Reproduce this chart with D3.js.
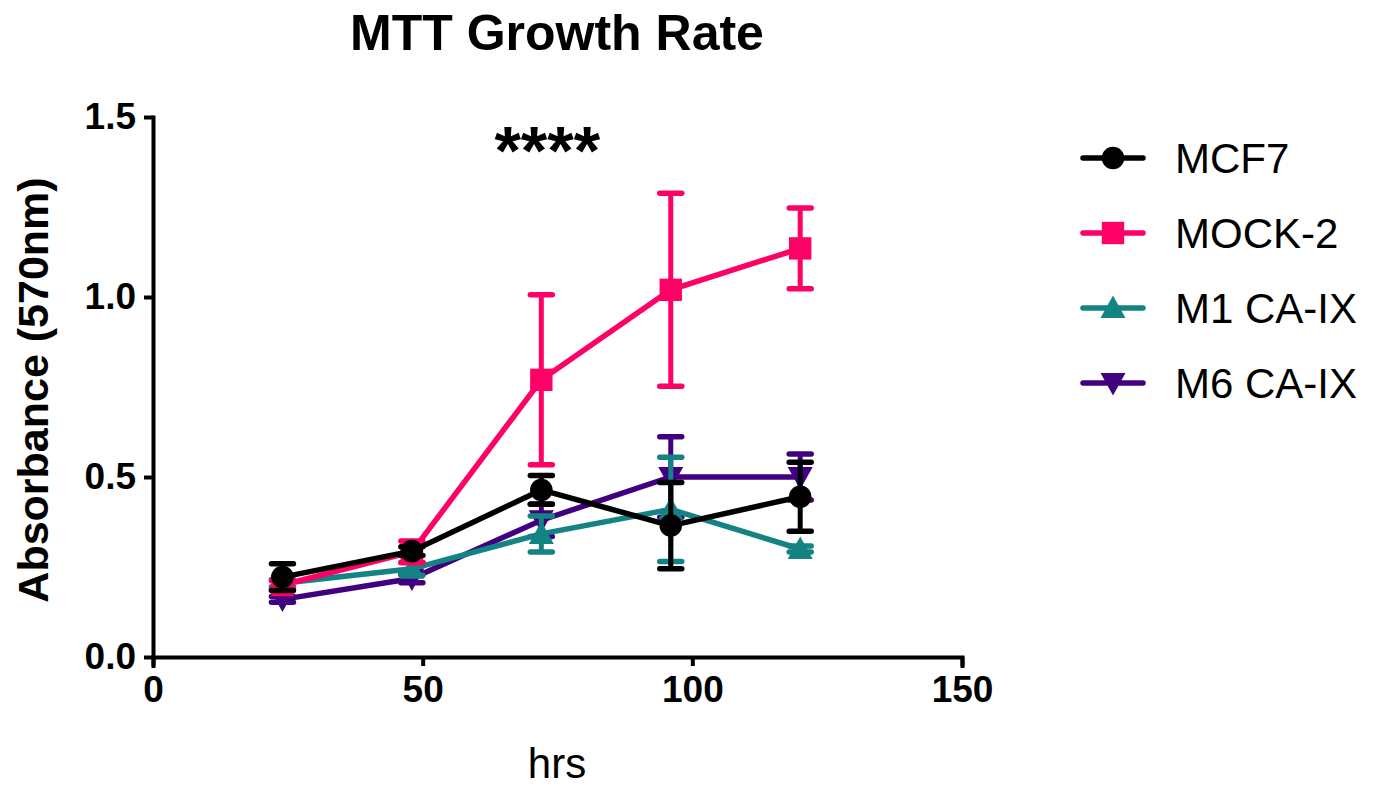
<!DOCTYPE html>
<html>
<head>
<meta charset="utf-8">
<script src="https://cdn.jsdelivr.net/npm/d3@7"></script>
<style>
    body { margin: 0; background: #fff; }
    svg { display: block; font-family: "Liberation Sans", Arial, sans-serif; }
    .axis path, .axis line { stroke: #000; stroke-width: 4; }
    .axis text { font-size: 37px; font-weight: bold; fill: #000; }
    .title-text { font-size: 50px; font-weight: bold; }
    .label-text { font-size: 42px; }
    .legend-text { font-size: 42px; }
</style>
</head>
<body>
<script>
var hours = [24, 48, 72, 96, 120];
var seriesNames = ["MCF7", "MOCK-2", "M1 CA-IX", "M6 CA-IX"];
var mcf7 = [0.222, 0.294, 0.464, 0.365, 0.445];
var mcf7Err = [0.037, 0.012, 0.040, 0.120, 0.096];
var mock2 = [0.200, 0.292, 0.770, 1.020, 1.135];
var mock2Err = [0.012, 0.030, 0.236, 0.268, 0.112];
var m1 = [0.205, 0.245, 0.342, 0.410, 0.300];
var m1Err = [0.010, 0.018, 0.050, 0.145, 0.008];
var m6 = [0.160, 0.218, 0.380, 0.500, 0.500];
var m6Err = [0.008, 0.012, 0.045, 0.112, 0.064];
var xTicks = [0, 50, 100, 150];
var yTicks = [0.0, 0.5, 1.0, 1.5];

var colors = {
    "MCF7": "#000000",
    "MOCK-2": "#ff0066",
    "M1 CA-IX": "#138383",
    "M6 CA-IX": "#400080"
};
var symbols = {
    "MCF7": "circle",
    "MOCK-2": "square",
    "M1 CA-IX": "up",
    "M6 CA-IX": "down"
};

var margin = {top: 117, left: 153};
var width = 809, height = 540;

var series = [
    {name: "MCF7", values: mcf7, err: mcf7Err},
    {name: "MOCK-2", values: mock2, err: mock2Err},
    {name: "M1 CA-IX", values: m1, err: m1Err},
    {name: "M6 CA-IX", values: m6, err: m6Err}
].map(function(s) {
    return {
        name: s.name,
        color: colors[s.name],
        points: hours.map(function(h, i) {
            return {x: h, y: s.values[i], e: s.err[i]};
        })
    };
});

var svg = d3.select("body").append("svg")
    .attr("width", 1373)
    .attr("height", 789);

var g = svg.append("g")
    .attr("transform", "translate(" + margin.left + "," + margin.top + ")");

var xScale = d3.scaleLinear().domain([0, 150]).range([0, width]);
var yScale = d3.scaleLinear().domain([0, 1.5]).range([height, 0]);

g.append("g")
    .attr("class", "axis")
    .attr("transform", "translate(0," + height + ")")
    .call(d3.axisBottom(xScale).tickValues(xTicks).tickSize(9).tickSizeOuter(9).tickPadding(10)
        .tickFormat(d3.format("d")))
    .call(function(a) { a.selectAll("text").attr("dy", "0.71em"); });

g.append("g")
    .attr("class", "axis")
    .call(d3.axisLeft(yScale).tickValues(yTicks).tickSize(9).tickSizeOuter(0).tickPadding(8)
        .tickFormat(d3.format(".1f")));

g.selectAll(".axis path").attr("fill", "none").attr("stroke-linecap", "square");

function markerPath(type) {
    if (type === "circle") return d3.symbol(d3.symbolCircle, 400)();
    if (type === "square") return d3.symbol(d3.symbolSquare, 500)();
    var s = 12.5;
    if (type === "up") return "M0," + (-s) + "L" + s + "," + (s * 0.8) + "L" + (-s) + "," + (s * 0.8) + "Z";
    return "M0," + s + "L" + s + "," + (-s * 0.8) + "L" + (-s) + "," + (-s * 0.8) + "Z";
}

var line = d3.line()
    .x(function(d) { return xScale(d.x); })
    .y(function(d) { return yScale(d.y); });

// draw back to front so MCF7 ends up on top
series.slice().reverse().forEach(function(s) {
    var sg = g.append("g");
    sg.append("path")
        .attr("d", line(s.points))
        .attr("fill", "none")
        .attr("stroke", s.color)
        .attr("stroke-width", 5.5);

    var eb = sg.selectAll(".err")
        .data(s.points)
        .enter()
        .append("g");
    eb.append("line")
        .attr("x1", function(d) { return xScale(d.x); })
        .attr("x2", function(d) { return xScale(d.x); })
        .attr("y1", function(d) { return yScale(d.y - d.e); })
        .attr("y2", function(d) { return yScale(d.y + d.e); })
        .attr("stroke", s.color)
        .attr("stroke-width", 5);
    [-1, 1].forEach(function(sign) {
        eb.append("line")
            .attr("x1", function(d) { return xScale(d.x) - 11; })
            .attr("x2", function(d) { return xScale(d.x) + 11; })
            .attr("y1", function(d) { return yScale(d.y + sign * d.e); })
            .attr("y2", function(d) { return yScale(d.y + sign * d.e); })
            .attr("stroke", s.color)
            .attr("stroke-width", 5.5)
            .attr("stroke-linecap", "round");
    });

    sg.selectAll(".dot")
        .data(s.points)
        .enter()
        .append("path")
        .attr("transform", function(d) { return "translate(" + xScale(d.x) + "," + yScale(d.y) + ")"; })
        .attr("d", markerPath(symbols[s.name]))
        .attr("fill", s.color);
});

// legend
var legend = svg.append("g").attr("transform", "translate(1083,158)");
var item = legend.selectAll(".item")
    .data(series)
    .enter()
    .append("g")
    .attr("transform", function(d, i) { return "translate(0," + (i * 75) + ")"; });
item.append("line")
    .attr("x1", 0).attr("x2", 60)
    .attr("stroke", function(d) { return d.color; })
    .attr("stroke-width", 5.5)
    .attr("stroke-linecap", "round");
item.append("path")
    .attr("transform", "translate(30,0)")
    .attr("d", function(d) { return markerPath(symbols[d.name]); })
    .attr("fill", function(d) { return d.color; });
item.append("text")
    .attr("class", "legend-text")
    .attr("x", 92)
    .attr("dy", "0.36em")
    .text(function(d) { return d.name; });

svg.append("text")
    .attr("class", "title-text")
    .attr("x", 557)
    .attr("y", 50)
    .attr("text-anchor", "middle")
    .text("MTT Growth Rate");

svg.append("text")
    .attr("x", xScale(72) + margin.left + 6)
    .attr("y", 174)
    .attr("text-anchor", "middle")
    .style("font-size", "68px")
    .style("font-weight", "bold")
    .text("****");

svg.append("text")
    .attr("class", "label-text")
    .attr("x", 557)
    .attr("y", 778)
    .attr("text-anchor", "middle")
    .text("hrs");

svg.append("text")
    .attr("class", "label-text")
    .attr("transform", "rotate(-90)")
    .attr("x", -390)
    .attr("y", 48)
    .attr("text-anchor", "middle")
    .style("font-weight", "bold")
    .style("font-size", "43px")
    .text("Absorbance (570nm)");
</script>
</body>
</html>
